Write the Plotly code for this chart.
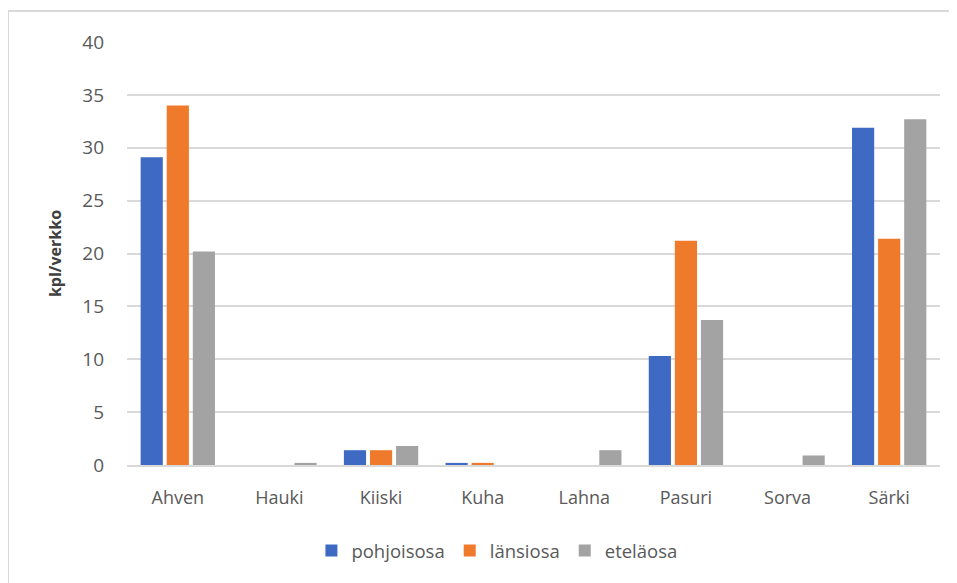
import plotly.graph_objects as go

categories = ["Ahven", "Hauki", "Kiiski", "Kuha", "Lahna", "Pasuri", "Sorva", "Särki"]
pohjoisosa = [29.1, 0.0, 1.4, 0.2, 0.0, 10.3, 0.0, 31.9]
lansiosa = [34.0, 0.0, 1.4, 0.2, 0.0, 21.2, 0.0, 21.4]
etelaosa = [20.2, 0.2, 1.8, 0.0, 1.4, 13.7, 0.9, 32.7]
series_names = ["pohjoisosa", "länsiosa", "eteläosa"]
colors = ["#3E6AC4", "#F07A2C", "#A3A3A3"]
y_ticks = [0, 5, 10, 15, 20, 25, 30, 35, 40]

fig = go.Figure()
for name, vals, col in zip(series_names, [pohjoisosa, lansiosa, etelaosa], colors):
    fig.add_trace(go.Bar(x=categories, y=vals, name=name, marker=dict(color=col, line=dict(width=0))))

# page body has an 8px margin, so figure is drawn offset by 8px
OFF = 8
W, H = 957 - OFF, 583 - OFF
ml, mr, mt, mb = 127 - OFF, 17, 42 - OFF, 118
pw, ph = W - ml - mr, H - mt - mb

def px2paper_x(px):
    return (px - OFF - ml) / pw

def px2paper_y(py):
    return (H - mb - (py - OFF)) / ph

border = dict(color="#D9D9D9", width=2)
fig.update_layout(
    width=W, height=H,
    margin=dict(l=ml, r=mr, t=mt, b=mb),
    paper_bgcolor="white", plot_bgcolor="white",
    barmode="group", bargap=0.23, bargroupgap=0.15,
    font=dict(family="Open Sans, Noto Sans, sans-serif", color="#595959", size=18),
    showlegend=True,
    legend=dict(orientation="h", x=0.455, xanchor="center", y=px2paper_y(532), yanchor="top",
                font=dict(size=18.5, color="#595959"), itemwidth=30, traceorder="normal"),
    xaxis=dict(showgrid=False, showline=True, linecolor="#D9D9D9", linewidth=1.5,
               ticks="", ticklabelstandoff=16, tickfont=dict(size=18, color="#595959")),
    yaxis=dict(range=[0, 40], tickvals=y_ticks, showgrid=True, gridcolor="#D9D9D9", gridwidth=1.5,
               zeroline=False, showline=False, ticks="", ticklabelstandoff=22,
               tickfont=dict(size=19, color="#595959"),
               title=dict(text="<b>kpl/verkko</b>", font=dict(size=16, color="#404040"), standoff=16)),
    shapes=[
        dict(type="line", xref="paper", yref="paper",
             x0=px2paper_x(8), x1=px2paper_x(970), y0=px2paper_y(11), y1=px2paper_y(11),
             line=border, layer="below"),
        dict(type="line", xref="paper", yref="paper",
             x0=px2paper_x(8), x1=px2paper_x(8), y0=px2paper_y(11), y1=px2paper_y(600),
             line=border, layer="below"),
    ],
)

fig.write_html("out.html")
